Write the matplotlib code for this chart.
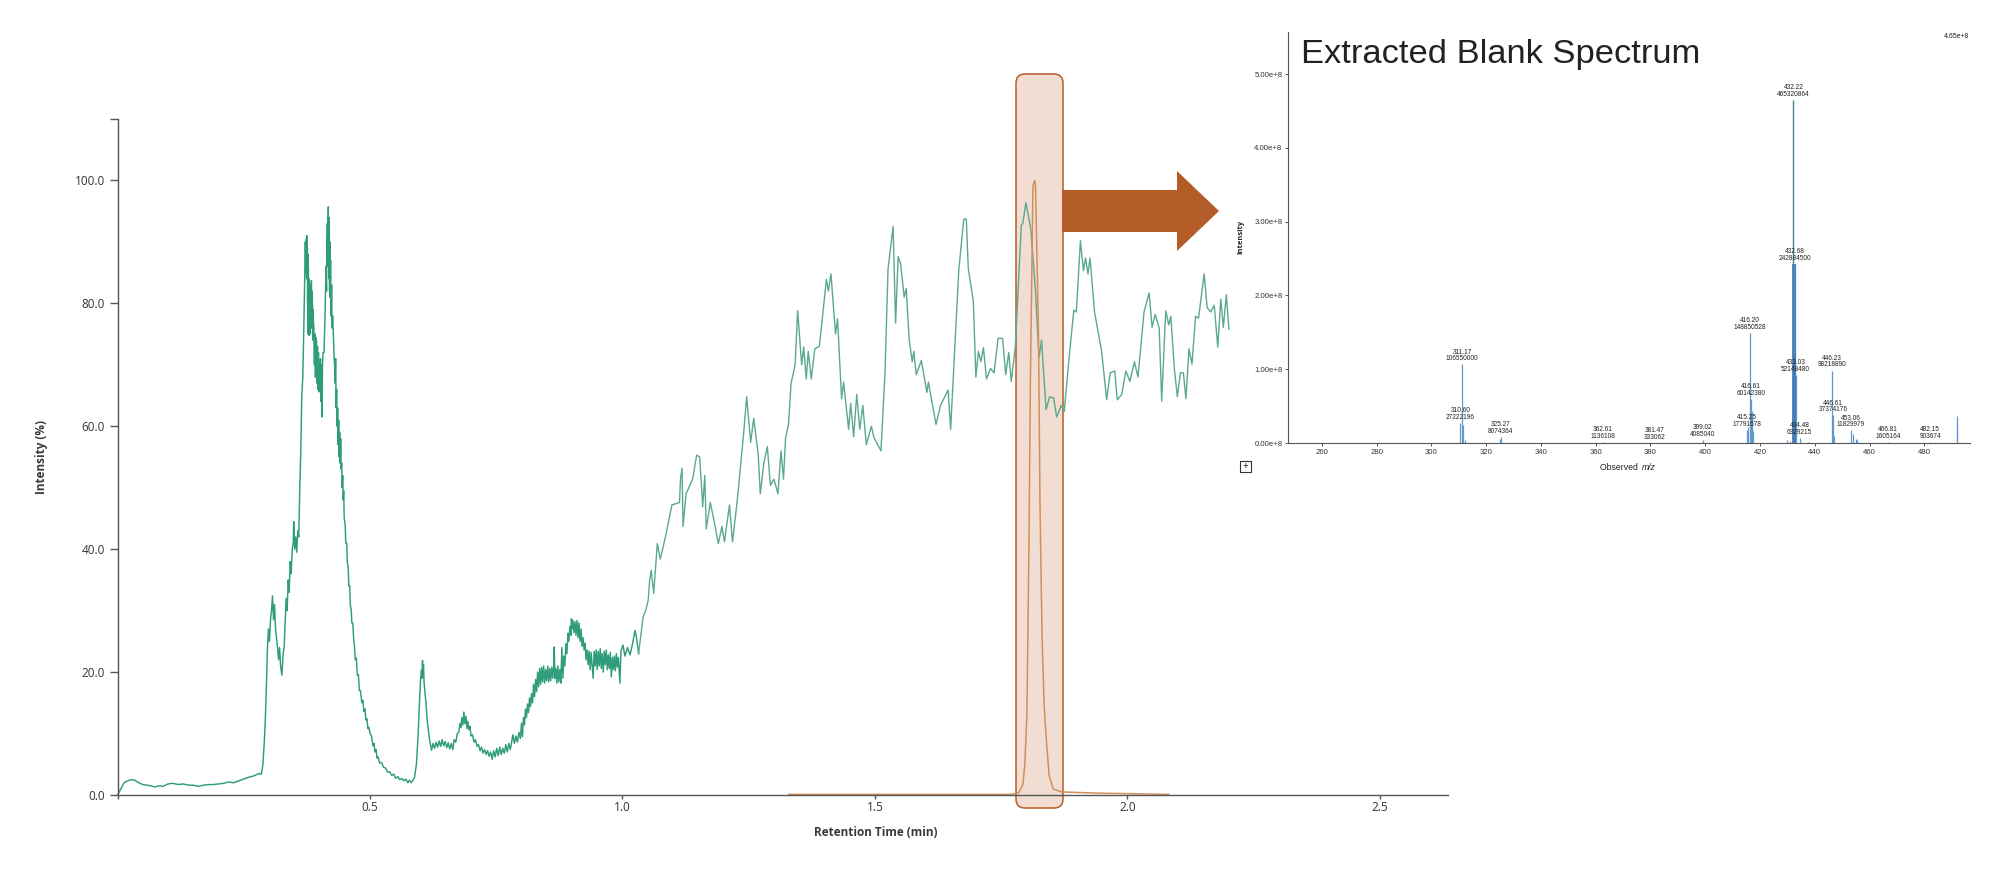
"""Blank TIC trace with the extracted spectrum shown as an inset."""

import matplotlib

matplotlib.use("Agg")
import matplotlib.pyplot as plt
from matplotlib.patches import FancyArrow, FancyBboxPatch, Rectangle
from matplotlib.transforms import IdentityTransform

W, H = 2000, 871

# TIC trace
tic_time_early = [0, .004, .008, .013, .02, .027, .034, .042, .05, .058,
                  .066, .074, .082, .09, .10, .11, .12, .13, .14, .15,
                  .16, .17, .18, .19, .20, .21, .22, .23, .24, .25,
                  .26, .27, .28, .285]
tic_int_early = [0, .6, 1.2, 2.0, 2.3, 2.5, 2.4, 2.0, 1.7, 1.6,
                 1.5, 1.3, 1.5, 1.4, 1.8, 1.9, 1.7, 1.8, 1.6, 1.6,
                 1.4, 1.6, 1.7, 1.7, 1.8, 1.9, 2.1, 2.0, 2.3, 2.6,
                 2.9, 3.1, 3.5, 3.4]

tic_time_main = [.288, .291, .293, .295, .297, .299, .301, .303, .305, .307,
                 .309, .311, .313, .315, .317, .319, .321, .323, .3255, .328,
                 .330, .332, .334, .336, .338, .340, .342, .344, .346, .348,
                 .349, .351, .353, .355, .357, .359, .361, .363, .365, .367,
                 .369, .371, .372, .373, .374, .3745, .375, .3755, .376, .3765,
                 .377, .3775, .378, .3785, .379, .3795, .380, .3805, .381, .3815,
                 .382, .3825, .383, .3835, .384, .3845, .385, .3855, .386, .3865,
                 .387, .3875, .388, .389, .390, .3905, .391, .3915, .392, .3925,
                 .393, .394, .395, .396, .397, .398, .399, .400, .401, .402,
                 .403, .404, .405, .406, .407, .409, .411, .413, .414, .4145,
                 .415, .4155, .416, .4165, .417, .4175, .418, .4185, .419, .4195,
                 .420, .4205, .421, .422, .423, .424, .425, .426, .4275, .429,
                 .430, .431, .432, .433, .434, .435, .436, .437, .438, .439,
                 .440, .441, .442, .443, .444, .445, .446, .447, .448, .449,
                 .451, .452, .454, .455, .457, .458, .460, .461, .463, .464,
                 .466, .468, .469, .471, .473, .475, .477, .479, .481, .484,
                 .486, .488, .490, .492, .494, .496, .498, .500, .503, .506,
                 .508, .510, .512, .514, .516, .519, .523, .527, .531, .535,
                 .539, .543, .547, .551, .555, .559, .563, .567, .571, .575,
                 .578, .582]
tic_int_main = [5, 9, 13, 18, 24, 27, 25, 28.5, 30, 32.4,
                28.5, 31, 27, 25.5, 24, 22, 24, 21, 19.5, 23,
                24, 28, 32, 30, 35, 33, 38, 36, 40, 41,
                44.5, 40, 42, 39.5, 43, 42, 50, 56, 65, 68,
                76, 86, 90, 85, 90.5, 84, 91, 85, 89, 80,
                88, 75, 86, 78, 84, 74.8, 83, 76, 82, 75,
                83, 76, 82, 76, 83.7, 77, 82, 76, 80, 75,
                79, 74, 77, 75.6, 70, 74, 70.7, 75, 68, 74.5,
                70, 74, 67, 73, 66, 72, 65.6, 70, 68, 71,
                64, 70, 61.5, 70, 72, 72, 78, 86, 82, 91,
                86, 93, 87, 94, 88, 95.7, 86, 94, 84, 93,
                82, 90, 81, 87, 78, 83, 76, 78, 75, 71,
                70, 67, 71, 63, 66, 60, 63, 57, 61, 55,
                59, 54, 58, 53, 54, 50, 52, 48, 49.5, 45,
                44, 41, 41, 38, 37, 34, 34, 31, 30, 28,
                28, 25, 24.5, 22, 22.3, 19.5, 19.6, 17, 17, 15,
                15.4, 13.6, 14, 12.2, 12.4, 10.8, 11, 10, 9.6, 8,
                8.4, 7, 7.4, 6, 6.2, 5.2, 5.3, 4.5, 4.4, 3.7,
                3.8, 3.2, 3.4, 2.7, 3, 2.5, 2.7, 2.3, 2.6, 2,
                2.4, 2.0]

tic_time_mid = [.585, .588, .592, .5955, .598, .600, .602, .603, .604, .605,
                .606, .607, .609, .611, .613, .615, .618, .622, .625, .628,
                .631, .634, .637, .640, .643, .646, .649, .652, .655, .658,
                .661, .664, .667, .670, .673, .676, .678, .680, .682, .684,
                .686, .688, .690, .692, .694, .696, .698, .70, .703, .706,
                .709, .712, .715, .718, .721, .724, .727, .73, .733, .736,
                .739, .742, .745, .748, .751, .754, .757, .760, .763, .766,
                .769, .772, .775, .778, .781, .783, .786, .789, .792, .795,
                .798, .80, .802, .804, .806, .808, .81, .812, .814, .816,
                .818, .82, .822, .824, .826, .828, .83, .832, .834, .836,
                .838, .84, .842, .844, .846, .848, .85, .852, .854, .856,
                .858, .86, .862, .864, .865, .866, .868, .87, .872, .874,
                .876, .878, .88, .882, .884, .886, .888, .89, .892, .894,
                .896, .898, .899, .90, .902, .904, .906, .908, .91, .912,
                .914, .916, .918, .92, .922, .924, .926, .928, .93, .932,
                .934, .936, .938, .94, .942, .944, .946, .948, .95, .952,
                .954, .956, .958, .96, .962, .964, .966, .968, .97, .972,
                .974, .976, .978, .98, .982, .984, .986, .988, .99, .992,
                .995, .997, 1.001, 1.005, 1.01, 1.015, 1.02, 1.025, 1.028, 1.032]
tic_int_mid = [2.4, 2.8, 5, 10, 15, 18.5, 20.3, 19, 21.9, 20,
               21.2, 18.5, 16.5, 15, 12.5, 11, 9, 7.3, 8.4, 7.6,
               8.6, 7.8, 8.8, 7.9, 9, 8, 8.7, 7.7, 8.5, 7.5,
               8.4, 7.4, 9, 8.6, 10, 10.2, 11.6, 11, 12.6, 11.4,
               13.5, 11.6, 12.8, 10.8, 12, 10.6, 11.2, 9.6, 9.8, 8.6,
               9, 7.9, 8.2, 7.2, 7.8, 6.8, 7.4, 6.6, 7.2, 6.3,
               7, 5.8, 7.2, 6.2, 7.6, 6.4, 7.8, 6.6, 7.6, 6.8,
               8.2, 7, 8.4, 7.4, 8.8, 9.8, 8.4, 9.6, 8.6, 10.2,
               9.2, 11.7, 9.5, 12.6, 11.4, 14, 12.6, 14.8, 13.4, 15.8,
               14.4, 16.5, 15, 18, 16, 18.8, 16.8, 20, 17.6, 20.6,
               18, 20.8, 18.4, 21, 18.2, 20.4, 18.6, 21, 18.4, 20.6,
               18.6, 20.8, 19, 21, 24.1, 19, 20.6, 18.2, 21, 18.4,
               20.4, 18.2, 24, 19, 22.6, 21, 24.6, 23, 26.3, 25,
               27.5, 26, 28.7, 27, 28.4, 26.4, 28.2, 26, 28.4, 25.6,
               28, 25, 27, 24.2, 25.6, 23.6, 24.7, 22, 23.6, 21.2,
               23.4, 20.4, 23.2, 21, 19, 23.4, 21, 23.6, 20.4, 23.4,
               21, 23.8, 20.6, 23, 20, 23.4, 21.2, 23.6, 20.4, 22.8,
               20.6, 23.2, 19.2, 22.4, 20.4, 22.6, 20.2, 23, 20.8, 22.4,
               18.2, 23.4, 24.4, 22.6, 24, 22.8, 24.6, 26.8, 25.6, 23]

tic_time_late = [1.041, 1.046, 1.051, 1.054, 1.057, 1.062, 1.069, 1.075, 1.086, 1.098,
                 1.113, 1.115, 1.118, 1.12, 1.126, 1.139, 1.147, 1.153, 1.159, 1.163,
                 1.166, 1.174, 1.181, 1.19, 1.197, 1.202, 1.212, 1.218, 1.227, 1.235,
                 1.24, 1.246, 1.254, 1.26, 1.269, 1.273, 1.28, 1.287, 1.293, 1.30,
                 1.308, 1.314, 1.319, 1.323, 1.329, 1.334, 1.342, 1.347, 1.355, 1.359,
                 1.364, 1.368, 1.374, 1.381, 1.39, 1.404, 1.408, 1.413, 1.422, 1.426,
                 1.434, 1.438, 1.448, 1.452, 1.458, 1.464, 1.47, 1.476, 1.483, 1.493,
                 1.498, 1.512, 1.52, 1.526, 1.536, 1.541, 1.546, 1.551, 1.558, 1.562,
                 1.568, 1.574, 1.577, 1.582, 1.592, 1.603, 1.606, 1.621, 1.63, 1.645,
                 1.65, 1.666, 1.676, 1.681, 1.685, 1.695, 1.70, 1.705, 1.71, 1.715,
                 1.721, 1.729, 1.736, 1.744, 1.753, 1.759, 1.765, 1.77, 1.778, 1.79,
                 1.793, 1.799, 1.809, 1.818, 1.825, 1.83, 1.839, 1.846, 1.854, 1.86,
                 1.869, 1.875, 1.885, 1.894, 1.899, 1.907, 1.913, 1.917, 1.922, 1.926,
                 1.935, 1.949, 1.959, 1.966, 1.975, 1.98, 1.989, 1.997, 2.005, 2.014,
                 2.021, 2.033, 2.043, 2.049, 2.055, 2.063, 2.068, 2.076, 2.082, 2.086,
                 2.093, 2.099, 2.105, 2.111, 2.116, 2.122, 2.128, 2.135, 2.141, 2.152,
                 2.158, 2.165, 2.172, 2.179, 2.185, 2.19, 2.196, 2.201]
tic_int_late = [29, 30, 31.7, 35, 36.6, 32.8, 40.9, 38.4, 42.3, 47.2,
                47.6, 51.4, 53.2, 43.7, 49, 51.4, 55.3, 55, 46.9, 52,
                43.3, 47.6, 44.8, 40.9, 43.7, 41.2, 47.2, 41.2, 47.6, 54.6,
                58.8, 64.8, 57.4, 61.3, 55.3, 49, 54, 56.7, 50.4, 51.4,
                49, 56, 51.4, 58, 60.4, 67, 70, 78.8, 70, 72.9,
                67.7, 72.2, 67.7, 72.6, 73, 83.9, 82, 84.8, 75, 77.5,
                64.5, 67.2, 59.5, 63.7, 58.3, 65.2, 59.5, 63.4, 57, 60,
                58.2, 56, 68.7, 85.6, 92.5, 76.8, 87.6, 86.4, 81, 82.4,
                74, 70.5, 72.2, 68.4, 70.7, 65.5, 67.2, 60.3, 63.4, 65.9,
                59.5, 85.3, 93.7, 93.7, 85.6, 80.3, 68, 72.2, 70.5, 72.8,
                67.7, 69.4, 68.7, 74.3, 74.3, 68.4, 72, 67.3, 72.9, 92.7,
                93, 96.4, 92, 82, 71.2, 74, 62.7, 64.8, 64.6, 61.5,
                63.4, 62.4, 71.5, 78.9, 78.6, 90.2, 85.3, 87.4, 84.8, 87.4,
                78.6, 72.2, 64.3, 68.7, 69, 64.3, 65.2, 69, 67.3, 70.5,
                68, 78.6, 81.7, 76.1, 78.2, 76, 64.1, 78.8, 76.5, 77.9,
                69.4, 64.8, 68.7, 68.7, 64.5, 72.6, 70.1, 77.9, 77.6, 84.8,
                79.3, 78.6, 79.7, 72.9, 80.7, 76.1, 81.4, 75.8]

# Extracted ion trace
xic_time = [1.33, 1.60, 1.77, 1.785, 1.793, 1.797, 1.801, 1.805, 1.808, 1.813,
            1.816, 1.818, 1.824, 1.827, 1.831, 1.835, 1.839, 1.845, 1.853, 1.869,
            1.945, 2.082]
xic_int = [.1, .1, .1, .4, 1.7, 5, 13, 40, 68, 99,
           100, 99.5, 75, 47, 26, 15, 9.5, 3.2, 1, .5,
           .3, .1]

rt_ticks = [0.5, 1.0, 1.5, 2.0, 2.5]
pct_ticks = [0, 20, 40, 60, 80, 100]

# Spectrum sticks
mz_labeled = [310.60, 311.17, 325.27, 362.61, 381.47, 399.02, 415.25, 416.20, 416.61,
              432.22, 432.68, 433.03, 434.48, 446.23, 446.61, 453.06, 466.81, 482.15]
mz_heights = [27222196, 106550000, 8074364, 1136108, 333062, 4085040, 17791678, 148850528, 60142380,
              465320864, 242884500, 92000000, 6329215, 98218890, 37374176, 17000000, 1605164, 903674]
mz_texts = ["27222196", "106550000", "8074364", "1136108", "333062", "4085040", "17791678", "148850528", "60142380",
            "465320864", "242884500", "52148480", "6329215", "98218890", "37374176", "11829979", "1605164", "903674"]
mz_other = [311.6, 312.1, 325.0, 415.6, 416.9, 417.1, 417.4, 430.0, 431.0, 432.45,
            437.5, 447.2, 454.0, 455.0, 455.4, 491.8, 491.95]
mz_other_h = [25000000, 4000000, 5000000, 22000000, 43000000, 38000000, 16000000, 4000000, 3000000, 120000000,
              1500000, 10000000, 12000000, 6000000, 4000000, 25000000, 37000000]
mz_ticks = list(range(260, 500, 20))
int_ticks = [0, 1e8, 2e8, 3e8, 4e8, 5e8]

plt.rcParams["font.family"] = ["Open Sans", "DejaVu Sans"]

DENSE = "#2f9c7b"
SPARSE = "#5aa98f"
ORANGE = "#d38f5b"
RUST = "#b35c27"
AXIS = "#555555"
BLUE = "#6297cc"


def px_axes(fig, left, top, right, bottom):
    return fig.add_axes([left / W, 1 - bottom / H, (right - left) / W, (bottom - top) / H])


fig = plt.figure(figsize=(W / 100, H / 100), dpi=100, facecolor="white")

# highlight band goes under the traces
band = FancyBboxPatch((1020, H - 804), 39, 726, boxstyle="round,pad=4,rounding_size=9",
                      transform=IdentityTransform(), facecolor="#f1ddd1",
                      edgecolor=RUST, linewidth=1.1, zorder=-1)
fig.add_artist(band)

ax = px_axes(fig, 117.5, 119, 1448, 795)
ax.patch.set_visible(False)
dense_t = tic_time_early + tic_time_main + tic_time_mid
dense_v = tic_int_early + tic_int_main + tic_int_mid
ax.plot(dense_t, dense_v, color=DENSE, lw=1.05, clip_on=False)
ax.plot(dense_t[-1:] + tic_time_late, dense_v[-1:] + tic_int_late, color=SPARSE, lw=1.0)
ax.plot(xic_time, xic_int, color=ORANGE, lw=1.1)

ax.set_xlim(0, 2.635)
ax.set_ylim(0, 110)
ax.set_xticks([0] + rt_ticks)
ax.set_xticklabels([""] + [f"{t:.1f}" for t in rt_ticks])
ax.set_yticks(pct_ticks + [110])
ax.set_yticklabels([f"{t:.1f}" for t in pct_ticks] + [""])
ax.tick_params(axis="x", length=3, width=1, color=AXIS, labelsize=8.5, labelcolor="#333333", pad=1.5)
ax.tick_params(axis="y", length=6, width=1, color=AXIS, labelsize=8.5, labelcolor="#333333", pad=3)
for side in ("top", "right"):
    ax.spines[side].set_visible(False)
for side in ("left", "bottom"):
    ax.spines[side].set_color(AXIS)
    ax.spines[side].set_linewidth(1.0)
fig.text(876 / W, 1 - 832 / H, "Retention Time (min)", fontsize=8.5, fontweight="bold",
         color="#3a3a3a", ha="center", va="center")
fig.text(42 / W, 1 - 457 / H, "Intensity (%)", fontsize=8.5, fontweight="bold",
         color="#3a3a3a", ha="center", va="center", rotation=90)

fig.add_artist(FancyArrow(1062, H - 211, 157, 0, width=42, head_width=80, head_length=42,
                          length_includes_head=True, transform=IdentityTransform(),
                          facecolor=RUST, edgecolor="none", zorder=3))

# spectrum inset
ins = px_axes(fig, 1288, 32, 1970, 443)
ins.patch.set_visible(False)
ins.vlines(mz_other, 0, mz_other_h, color=BLUE, lw=0.9)
ins.vlines(mz_labeled, 0, mz_heights, color=BLUE, lw=0.9)
ins.vlines(mz_labeled[9], mz_heights[10], mz_heights[9], color="#4a8a90", lw=0.9)
ins.vlines(mz_labeled[9:11], 0, mz_heights[10], color="#3f78b5", lw=1.2)
for mz, h, txt in zip(mz_labeled, mz_heights, mz_texts):
    ins.annotate(f"{mz:.2f}\n{txt}", (mz, h), xytext=(0, 1.5), textcoords="offset points",
                 ha="center", va="bottom", fontsize=4.7, linespacing=0.95,
                 family="Liberation Sans", color="#222222")
ins.set_xlim(247.6, 496.7)
ins.set_ylim(0, 5.57e8)
ins.set_xticks(mz_ticks)
ins.set_yticks(int_ticks)
ins.set_yticklabels([f"{t / 1e8:.2f}e+8" for t in int_ticks])
ins.tick_params(length=2.5, width=0.7, color=AXIS, labelsize=5.6, labelcolor="#333333", pad=1.5,
                labelfontfamily="Liberation Sans")
for side in ("top", "right"):
    ins.spines[side].set_visible(False)
for side in ("left", "bottom"):
    ins.spines[side].set_color(AXIS)
    ins.spines[side].set_linewidth(0.8)

fig.text(1241 / W, 1 - 237 / H, "Intensity", fontsize=5.4, fontweight="bold", rotation=90,
         ha="center", va="center", color="#222222")
fig.text(1640 / W, 1 - 467 / H, "Observed ", fontsize=6.2, family="Liberation Sans",
         ha="right", va="center", color="#222222")
fig.text(1642 / W, 1 - 467 / H, "m/z", fontsize=6.2, family="Liberation Sans", style="italic",
         ha="left", va="center", color="#222222")
fig.text(1957 / W, 1 - 36 / H, "4.65e+8", fontsize=5, family="Liberation Sans",
         ha="center", va="center", color="#222222")
fig.text(1301 / W, 1 - 54 / H, "Extracted Blank Spectrum", fontsize=24.8, family="Liberation Sans",
         ha="left", va="center", color="#222222")
fig.add_artist(Rectangle((1240, H - 472), 11, 11, transform=IdentityTransform(),
                         facecolor="white", edgecolor="#333333", linewidth=0.8))
fig.text(1245.5 / W, 1 - 466 / H, "+", fontsize=7, family="Liberation Sans",
         ha="center", va="center", color="#222222")

fig.savefig("out.png", dpi=100, facecolor="white")
